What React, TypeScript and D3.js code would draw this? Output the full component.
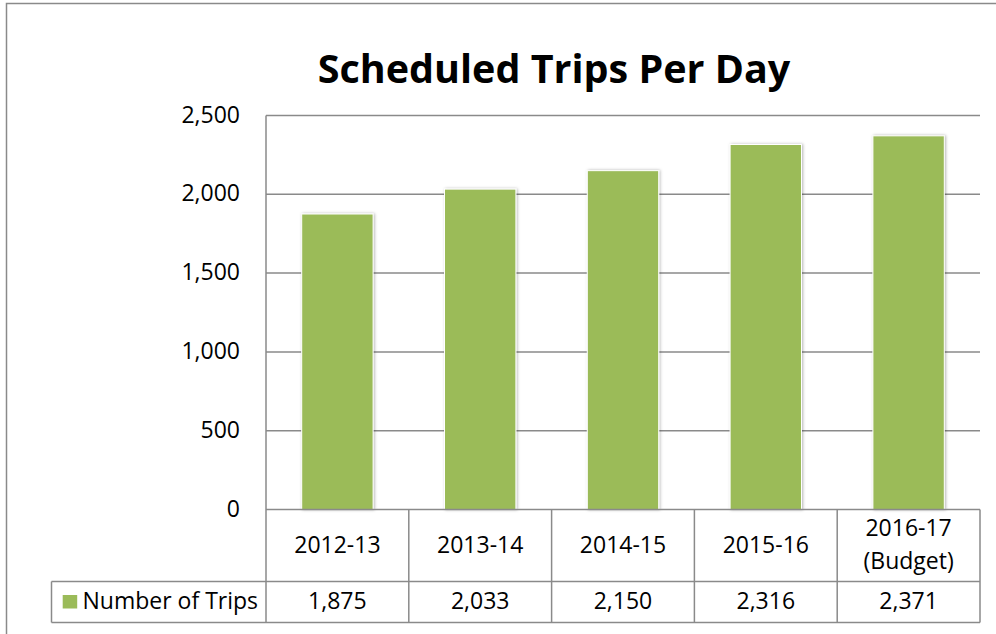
import React from "react";
import * as d3 from "d3";

const categories = ["2012-13", "2013-14", "2014-15", "2015-16", "2016-17\n(Budget)"];
const tripValues = [1875, 2033, 2150, 2316, 2371];
const yTickValues = [0, 500, 1000, 1500, 2000, 2500];
const seriesName = "Number of Trips";
const chartTitle = "Scheduled Trips Per Day";

const W = 996;
const H = 634;
const plotLeft = 266;
const plotRight = 980;
const plotTop = 115.5;
const plotBottom = 509.5;
const headerBottom = 581.5;
const tableBottom = 622.5;
const legendLeft = 51.5;
const FONT = "'Open Sans', sans-serif";
const GREEN = "#9BBB59";
const LINE = "#8a8a8a";

export default function App() {
  const x = d3
    .scaleBand<string>()
    .domain(categories)
    .range([plotLeft, plotRight])
    .paddingInner(0.5)
    .paddingOuter(0.25);
  const y = d3.scaleLinear().domain([0, 2500]).range([plotBottom, plotTop]);
  const step = x.step();
  const colStart = (i: number) => plotLeft + i * step;
  const fmt = d3.format(",");

  return (
    <svg
      width={W}
      height={H}
      style={{ position: "fixed", left: 0, top: 0, background: "#fff" }}
      fontFamily={FONT}
    >
      <defs>
        <filter id="barShadow" x="-20%" y="-10%" width="140%" height="120%">
          <feDropShadow dx="1" dy="0" stdDeviation="1.4" floodColor="#000" floodOpacity="0.3" />
        </filter>
      </defs>
      <rect x={0} y={0} width={W} height={H} fill="#fff" />
      {/* outer border */}
      <rect x={6.5} y={3.5} width={1100} height={800} fill="none" stroke={LINE} strokeWidth={1.5} />

      <text x={554} y={83} textAnchor="middle" fontSize={39.5} fontWeight="bold" fill="#000">
        {chartTitle}
      </text>

      {/* gridlines */}
      {yTickValues.filter((v) => v > 0).map((v) => (
        <line key={v} x1={plotLeft} x2={plotRight} y1={y(v)} y2={y(v)} stroke={LINE} strokeWidth={1.5} />
      ))}

      {/* y tick labels */}
      {yTickValues.map((v) => (
        <text key={v} x={240} y={y(v) - 1} dy="0.35em" textAnchor="end" fontSize={23} fill="#000">
          {fmt(v)}
        </text>
      ))}

      {/* bars */}
      {categories.map((c, i) => (
        <rect
          key={c}
          x={x(c)}
          y={y(tripValues[i])}
          width={x.bandwidth()}
          height={plotBottom - y(tripValues[i])}
          fill={GREEN}
          stroke="#fff"
          strokeWidth={1}
          filter="url(#barShadow)"
        />
      ))}

      {/* data table lines */}
      <line x1={plotLeft} x2={plotLeft} y1={plotTop} y2={tableBottom} stroke={LINE} strokeWidth={1.5} />
      <line x1={plotLeft} x2={plotRight} y1={plotBottom} y2={plotBottom} stroke={LINE} strokeWidth={1.5} />
      <line x1={legendLeft} x2={plotRight} y1={headerBottom} y2={headerBottom} stroke={LINE} strokeWidth={1.5} />
      <line x1={legendLeft} x2={plotRight} y1={tableBottom} y2={tableBottom} stroke={LINE} strokeWidth={1.5} />
      <line x1={legendLeft} x2={legendLeft} y1={headerBottom} y2={tableBottom} stroke={LINE} strokeWidth={1.5} />
      {categories.map((c, i) => (
        <line
          key={c}
          x1={colStart(i + 1)}
          x2={colStart(i + 1)}
          y1={plotBottom}
          y2={tableBottom}
          stroke={LINE}
          strokeWidth={1.5}
        />
      ))}

      {/* header labels */}
      {categories.map((c, i) => {
        const lines = c.split("\n");
        const cx = colStart(i) + step / 2;
        const cy = (plotBottom + headerBottom) / 2;
        const lh = 33;
        return (
          <text key={c} x={cx} textAnchor="middle" fontSize={23} fill="#000">
            {lines.map((l, j) => (
              <tspan key={j} x={cx} y={cy + (j - (lines.length - 1) / 2) * lh - 1} dy="0.35em">
                {l}
              </tspan>
            ))}
          </text>
        );
      })}

      {/* values row */}
      {categories.map((c, i) => (
        <text
          key={c}
          x={colStart(i) + step / 2}
          y={(headerBottom + tableBottom) / 2 - 1}
          dy="0.35em"
          textAnchor="middle"
          fontSize={23}
          fill="#000"
        >
          {fmt(tripValues[i])}
        </text>
      ))}

      {/* legend */}
      <rect x={62.7} y={595} width={14.5} height={13.5} fill={GREEN} />
      <text x={82.5} y={(headerBottom + tableBottom) / 2 - 1} dy="0.35em" fontSize={23} fill="#000">
        {seriesName}
      </text>
    </svg>
  );
}
